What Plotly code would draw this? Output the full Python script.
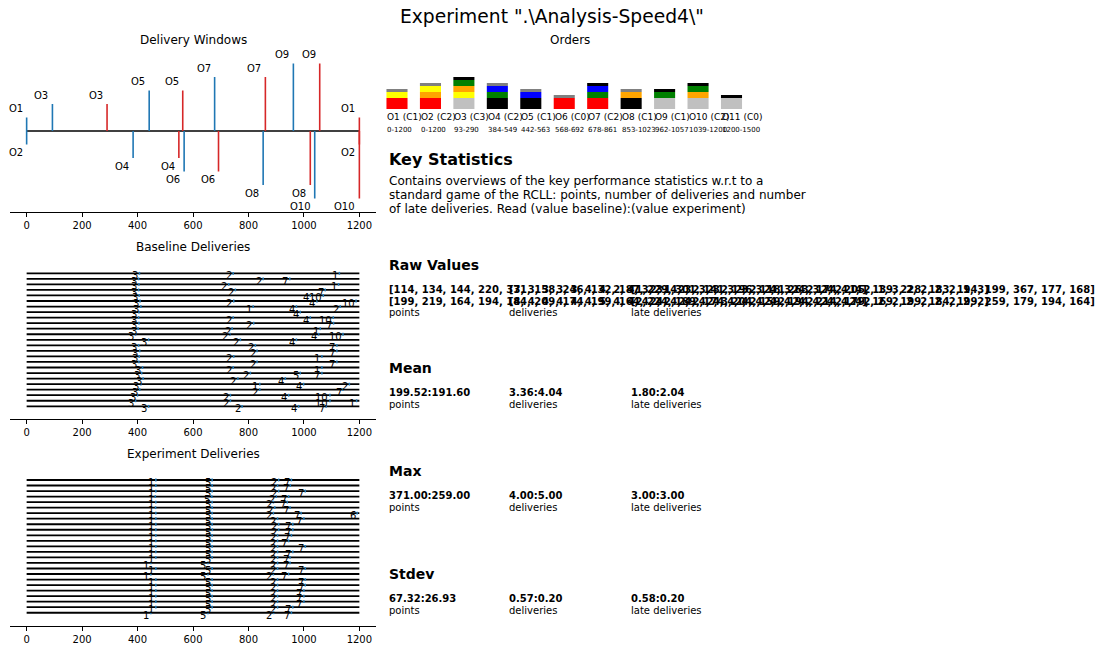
import plotly.graph_objects as go

FIG_W, FIG_H = 1110, 651
FONT = "DejaVu Sans"
BLUE = "#1f77b4"
RED = "#d62728"
INK = "black"

SUPTITLE = 'Experiment ".\\Analysis-Speed4\\"'
GAME_LENGTH = 1200
TIME_TICKS = [0, 200, 400, 600, 800, 1000, 1200]

# ---- delivery windows of orders O1..O10 ----
WINDOW_ORDERS = [1, 2, 3, 4, 5, 6, 7, 8, 9, 10]
WINDOW_START = [0, 0, 93, 384, 442, 568, 678, 853, 962, 1039]
WINDOW_END = [1200, 1200, 290, 549, 563, 692, 861, 1023, 1057, 1200]

# ---- order overview (base, rings bottom-up, cap) ----
ORDER_NAMES = ["O1", "O2", "O3", "O4", "O5", "O6", "O7", "O8", "O9", "O10", "O11"]
ORDER_COMPLEXITY = ["C1", "C2", "C3", "C2", "C1", "C0", "C2", "C1", "C1", "C2", "C0"]
ORDER_WINDOWS = ["0-1200", "0-1200", "93-290", "384-549", "442-563", "568-692",
                 "678-861", "853-1023", "962-1057", "1039-1200", "1200-1500"]
ORDER_BASE = ["red", "red", "silver", "black", "black", "red", "red", "black",
              "silver", "silver", "silver"]
ORDER_RINGS = [["yellow"], ["orange", "yellow"], ["yellow", "orange", "green"],
               ["green", "blue"], ["blue"], [], ["green", "blue"], ["orange"],
               ["green"], ["orange", "green"], []]
ORDER_CAP = ["grey", "grey", "black", "grey", "grey", "grey", "black", "grey",
             "black", "black", "black"]
BASE_H, RING_H, CAP_H = 11, 6, 3
BAR_W = 0.63

# ---- deliveries per game: order ids and delivery times ----
BASELINE_ORDERS = [
    [3, 2, 1], [3, 2, 7], [3, 2, 1], [3, 2, 7], [3, 4, 10],
    [3, 2, 4, 10], [3, 1, 4, 2], [3, 4], [3, 2, 4, 10], [3, 2, 7],
    [3, 2, 1], [3, 2, 4, 10], [3, 2, 4], [3, 2, 7], [3, 2, 7],
    [3, 2, 1], [3, 2, 7], [3, 2, 1], [3, 2, 5, 7], [3, 2, 4],
    [3, 1, 4, 2], [3, 2, 7], [3, 2, 4, 10], [3, 2, 10, 1], [3, 2, 4, 7],
]
BASELINE_TIMES = [
    [407, 745, 1128], [404, 853, 949], [405, 729, 1125], [404, 753, 1077], [406, 1023, 1070],
    [409, 747, 1047, 1188], [412, 817, 973, 1131], [405, 987], [404, 745, 1023, 1106], [405, 819, 1107],
    [402, 741, 1059], [393, 733, 1053, 1141], [440, 771, 973], [404, 825, 1119], [408, 831, 1119],
    [406, 747, 1065], [405, 831, 1119], [418, 745, 1065], [415, 807, 987, 1065], [420, 762, 933],
    [412, 841, 999, 1164], [408, 841, 1141], [400, 735, 945, 1094], [393, 735, 1094, 1190], [440, 777, 981, 1080],
]
EXPERIMENT_ORDERS = [[1, 5, 2, 7]] * 6 + [[1, 5, 2, 7, 6]] + [[1, 5, 2, 7]] * 18
EXPERIMENT_TIMES = [
    [466, 669, 909, 955], [466, 669, 905, 951], [466, 669, 909, 1005], [464, 668, 900, 945],
    [466, 669, 890, 940], [465, 669, 895, 950], [466, 669, 890, 990, 1192], [466, 669, 905, 1000],
    [466, 669, 909, 960], [466, 670, 909, 960], [466, 669, 905, 955], [466, 669, 905, 945],
    [466, 669, 905, 1005], [466, 669, 905, 960], [466, 669, 905, 950], [448, 654, 905, 950],
    [466, 669, 905, 1005], [448, 654, 890, 945], [466, 669, 905, 1005], [466, 669, 905, 1005],
    [466, 669, 905, 1000], [466, 669, 905, 1000], [466, 669, 905, 1000], [466, 669, 905, 960],
    [448, 654, 891, 955],
]

# ---- points per game ----
BASELINE_POINTS = [114, 134, 144, 220, 371, 158, 246, 132, 187, 229, 301, 141, 196,
                   118, 263, 174, 205, 139, 228, 183, 194, 199, 367, 177, 168]
EXPERIMENT_POINTS = [199, 219, 164, 194, 184, 209, 174, 199, 164, 224, 189, 174, 204,
                     159, 194, 214, 179, 169, 199, 184, 199, 259, 179, 194, 164]

# ---- summary statistics (baseline, experiment) for points / deliveries / late ----
STAT_NAMES = ["points", "deliveries", "late deliveries"]
MEAN_BASE, MEAN_EXP = [199.52, 3.36, 1.80], [191.60, 4.04, 2.04]
MAX_BASE, MAX_EXP = [371.0, 4.0, 3.0], [259.0, 5.0, 3.0]
STD_BASE, STD_EXP = [67.32, 0.57, 0.58], [26.93, 0.20, 0.20]

DESCRIPTION = [
    "Contains overviews of the key performance statistics w.r.t to a",
    "standard game of the RCLL: points, number of deliveries and number",
    "of late deliveries. Read (value baseline):(value experiment)",
]


def fx(p):
    return p / FIG_W


def fy(p):
    return 1 - p / FIG_H


fig = go.Figure()
annotations = []

# ---------------- Delivery Windows ----------------
fig.add_trace(go.Scatter(x=[0, GAME_LENGTH], y=[0, 0], mode="lines",
                         line=dict(color=INK, width=1.5), xaxis="x", yaxis="y",
                         hoverinfo="skip", showlegend=False))
for edge, color in ((WINDOW_START, BLUE), (WINDOW_END, RED)):
    xs, ys = [], []
    for k, t in zip(WINDOW_ORDERS, edge):
        level = (k + 1) // 2 if k % 2 else -(k // 2)
        xs += [t, t, None]
        ys += [0, level, None]
        annotations.append(dict(
            x=t, y=level, xref="x", yref="y", text=f"O{k}", showarrow=False,
            xanchor="right", yanchor="bottom" if level > 0 else "top",
            xshift=-2, yshift=1 if level > 0 else -1,
            font=dict(family=FONT, size=10, color=INK)))
    fig.add_trace(go.Scatter(x=xs, y=ys, mode="lines", line=dict(color=color, width=1.6),
                             xaxis="x", yaxis="y", hoverinfo="skip", showlegend=False))


# ---------------- Baseline / Experiment deliveries ----------------
def add_deliveries(orders, times, xa, ya):
    lx, ly = [], []
    px, py = [], []
    for g, (os_, ts) in enumerate(zip(orders, times)):
        lx += [0, GAME_LENGTH, None]
        ly += [g, g, None]
        for o, t in zip(os_, ts):
            px.append(t)
            py.append(g)
            # order id hangs below-left of its delivery mark
            annotations.append(dict(
                x=t, y=g, xref=xa, yref=ya, text=str(o), showarrow=False,
                xanchor="right", yanchor="middle", xshift=-0.5, yshift=-2.5, borderpad=0,
                font=dict(family=FONT, size=10, color=INK)))
    fig.add_trace(go.Scatter(x=lx, y=ly, mode="lines", line=dict(color=INK, width=1.8),
                             xaxis=xa, yaxis=ya, hoverinfo="skip", showlegend=False))
    fig.add_trace(go.Scatter(
        x=px, y=py, mode="markers",
        marker=dict(symbol="line-ns", size=2, color=BLUE, line=dict(color=BLUE, width=1.5)),
        xaxis=xa, yaxis=ya, hoverinfo="skip", showlegend=False))


add_deliveries(BASELINE_ORDERS, BASELINE_TIMES, "x2", "y2")
add_deliveries(EXPERIMENT_ORDERS, EXPERIMENT_TIMES, "x3", "y3")

# ---------------- Orders overview ----------------
bx, by, bb, bc = [], [], [], []
for i in range(len(ORDER_NAMES)):
    parts = [(ORDER_BASE[i], BASE_H)] + [(c, RING_H) for c in ORDER_RINGS[i]] + [(ORDER_CAP[i], CAP_H)]
    level = 0
    for c, h in parts:
        bx.append(i)
        by.append(h)
        bb.append(level)
        bc.append(c)
        level += h
fig.add_trace(go.Bar(x=bx, y=by, base=bb, width=BAR_W, marker=dict(color=bc, line=dict(width=0)),
                     xaxis="x4", yaxis="y4", hoverinfo="skip", showlegend=False))
for i, name in enumerate(ORDER_NAMES):
    annotations.append(dict(x=i - BAR_W / 2, y=fy(117), xref="x4", yref="paper",
                            text=f"{name} ({ORDER_COMPLEXITY[i]})", showarrow=False,
                            xanchor="left", yanchor="middle", xshift=-1,
                            font=dict(family=FONT, size=9, color=INK)))
    annotations.append(dict(x=i - BAR_W / 2, y=fy(130), xref="x4", yref="paper",
                            text=ORDER_WINDOWS[i], showarrow=False,
                            xanchor="left", yanchor="middle", xshift=-1,
                            font=dict(family=FONT, size=7, color=INK)))


# ---------------- text panel ----------------
def label(x, y, text, size, bold=False, anchor="left"):
    annotations.append(dict(x=fx(x), y=fy(y), xref="paper", yref="paper", text=text,
                            showarrow=False, xanchor=anchor, yanchor="middle",
                            font=dict(family=FONT, size=size, color=INK,
                                      weight="bold" if bold else "normal")))


label(552, 16, SUPTITLE, 18.7, anchor="center")
label(193, 40, "Delivery Windows", 12, anchor="center")
label(193, 247, "Baseline Deliveries", 12, anchor="center")
label(193, 454, "Experiment Deliveries", 12, anchor="center")
label(570, 40, "Orders", 12, anchor="center")

label(387, 160, "Key Statistics", 16, bold=True)
for j, line in enumerate(DESCRIPTION):
    label(387, 181 + 14 * j, line, 12)


def late_count(orders, times):
    end = dict(zip(WINDOW_ORDERS, WINDOW_END))
    return [sum(1 for o, t in zip(os_, ts) if t > end[o]) for os_, ts in zip(orders, times)]


COL_X = [387, 507, 629]
label(387, 265, "Raw Values", 14, bold=True)
raw_rows = [
    [BASELINE_POINTS, [len(g) for g in BASELINE_ORDERS], late_count(BASELINE_ORDERS, BASELINE_TIMES)],
    [EXPERIMENT_POINTS, [len(g) for g in EXPERIMENT_ORDERS], late_count(EXPERIMENT_ORDERS, EXPERIMENT_TIMES)],
]
for r, row in enumerate(raw_rows):
    for c, values in enumerate(row):
        label(COL_X[c], 289 + 12 * r, "[" + ", ".join(str(v) for v in values) + "]", 10, bold=True)
for c, name in enumerate(STAT_NAMES):
    label(COL_X[c], 313, name, 10)

for title, y0, base, exp in (("Mean", 368, MEAN_BASE, MEAN_EXP),
                             ("Max", 471, MAX_BASE, MAX_EXP),
                             ("Stdev", 574, STD_BASE, STD_EXP)):
    label(387, y0, title, 14, bold=True)
    for c, name in enumerate(STAT_NAMES):
        label(COL_X[c], y0 + 24, f"{base[c]:.2f}:{exp[c]:.2f}", 10, bold=True)
        label(COL_X[c], y0 + 36, name, 10)

# ---------------- axes ----------------
time_axis = dict(domain=[fx(10), fx(376)], range=[-60, 1260], tickvals=TIME_TICKS,
                 ticks="outside", ticklen=4, tickwidth=1, tickcolor=INK,
                 showline=True, linecolor=INK, linewidth=1, showgrid=False, zeroline=False,
                 tickfont=dict(family=FONT, size=10, color=INK), fixedrange=True)
hidden = dict(visible=False, showgrid=False, zeroline=False, fixedrange=True)

fig.update_layout(
    width=FIG_W, height=FIG_H, autosize=False,
    margin=dict(l=0, r=0, t=0, b=0),
    paper_bgcolor="white", plot_bgcolor="rgba(0,0,0,0)",
    barmode="overlay", showlegend=False,
    xaxis=dict(time_axis, anchor="y"),
    yaxis=dict(hidden, domain=[fy(212), fy(50)], range=[-6, 6], anchor="x"),
    xaxis2=dict(time_axis, anchor="y2"),
    yaxis2=dict(hidden, domain=[fy(419), fy(257)], range=[26.29, -2.94], anchor="x2"),
    xaxis3=dict(time_axis, anchor="y3"),
    yaxis3=dict(hidden, domain=[fy(626), fy(464)], range=[26.4, -2.89], anchor="x3"),
    xaxis4=dict(hidden, domain=[fx(380), fx(760)], range=[-0.508, 10.852], anchor="y4"),
    yaxis4=dict(hidden, domain=[fy(109), fy(50)], range=[0, 59], anchor="x4"),
    annotations=annotations,
)

fig.write_html("out.html")
